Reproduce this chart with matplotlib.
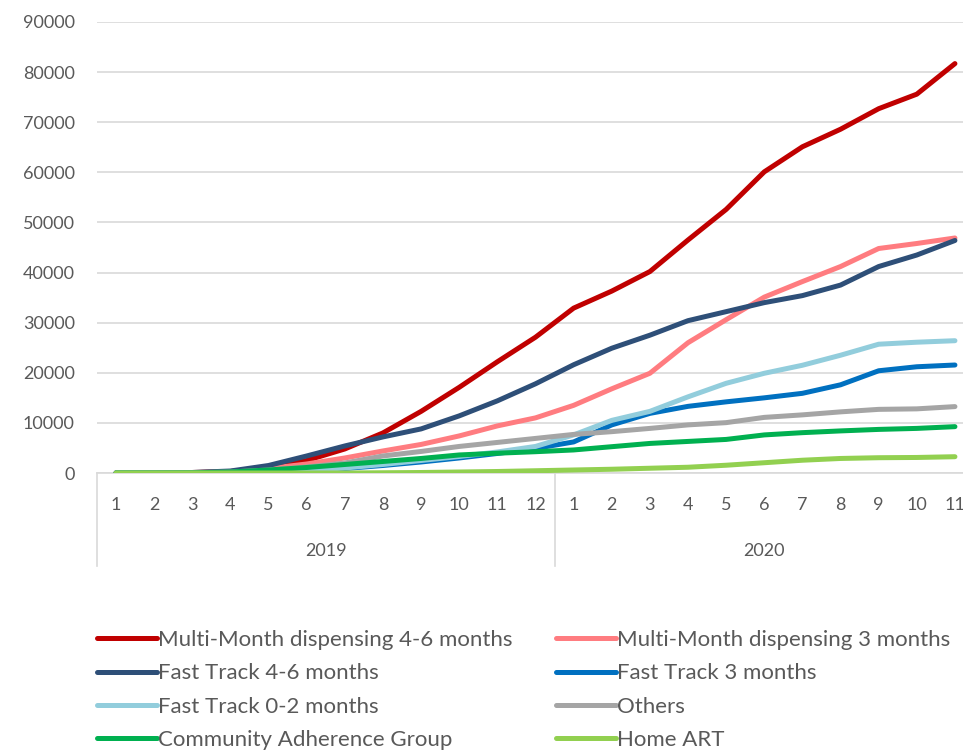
import matplotlib
matplotlib.use("Agg")
import matplotlib.pyplot as plt
import matplotlib.transforms as mtransforms

# -------- Data --------
months = [str(m) for m in range(1, 13)] + [str(m) for m in range(1, 12)]
years = ["2019", "2020"]
year_sizes = [12, 11]

mmd_4_6 = [0, 0, 100, 300, 1000, 2500, 4800, 8000, 12300, 17100, 22200, 27100,
           32900, 36300, 40200, 46500, 52600, 60100, 65100, 68600, 72700, 75600, 81700]
mmd_3 = [0, 0, 50, 300, 900, 1800, 3000, 4400, 5700, 7400, 9400, 11000,
         13500, 16800, 19900, 26000, 30600, 35100, 38200, 41200, 44800, 45800, 46900]
ft_4_6 = [0, 0, 100, 400, 1500, 3400, 5400, 7200, 8800, 11400, 14400, 17800,
          21600, 24900, 27500, 30400, 32200, 34000, 35400, 37500, 41200, 43500, 46400]
ft_3 = [0, 0, 0, 50, 200, 500, 900, 1500, 2200, 3000, 3900, 4900,
        6200, 9600, 11900, 13300, 14200, 15000, 15900, 17600, 20400, 21200, 21550]
ft_0_2 = [0, 0, 0, 50, 200, 500, 1000, 1700, 2500, 3300, 4200, 5300,
          7600, 10500, 12300, 15200, 17900, 19900, 21500, 23500, 25700, 26100, 26400]
others = [0, 0, 50, 200, 600, 1200, 2000, 3400, 4300, 5300, 6100, 6900,
          7700, 8250, 8900, 9600, 10050, 11100, 11600, 12200, 12700, 12800, 13250]
cag = [0, 0, 30, 200, 600, 1100, 1700, 2300, 2900, 3600, 3950, 4250,
       4600, 5250, 5900, 6300, 6700, 7600, 8050, 8400, 8700, 8900, 9250]
home_art = [0, 0, 0, 0, 0, 0, 0, 50, 100, 200, 300, 450,
            600, 750, 950, 1150, 1550, 2050, 2550, 2900, 3050, 3100, 3250]

series = [
    ("Multi-Month dispensing 4-6 months", mmd_4_6, "#C00000"),
    ("Multi-Month dispensing 3 months", mmd_3, "#FF7C80"),
    ("Fast Track 4-6 months", ft_4_6, "#2E4F78"),
    ("Fast Track 3 months", ft_3, "#0070C0"),
    ("Fast Track 0-2 months", ft_0_2, "#92CDDC"),
    ("Others", others, "#A5A5A5"),
    ("Community Adherence Group", cag, "#00B050"),
    ("Home ART", home_art, "#92D050"),
]

plt.rcParams['font.family'] = ['Lato', 'DejaVu Sans']
text_col = "#595959"
grid_col = "#D9D9D9"

W, H = 963, 750
fig = plt.figure(figsize=(W / 100, H / 100), dpi=100)
ax = fig.add_axes([97 / W, 1 - 473 / H, 877 / W, 451 / H])

x = list(range(len(months)))
handles = []
for label, vals, col in series:
    h, = ax.plot(x, vals, color=col, lw=3.6, label=label, solid_capstyle="round",
                 solid_joinstyle="round", zorder=3)
    handles.append(h)

ax.set_xlim(-0.5, len(months) - 0.5)
ax.set_ylim(0, 90000)
ax.set_yticks(range(0, 90001, 10000))
ax.yaxis.grid(True, color=grid_col, lw=1.2)
ax.set_axisbelow(True)
for s in ["top", "right", "left"]:
    ax.spines[s].set_visible(False)
ax.spines["bottom"].set_color(grid_col)
ax.spines["bottom"].set_linewidth(1.2)
ax.tick_params(axis="y", length=0, pad=16, labelsize=13, labelcolor=text_col)
ax.set_xticks(x)
ax.set_xticklabels(months)
ax.tick_params(axis="x", length=0, pad=17, labelsize=13, labelcolor=text_col)

# two-level category axis: year labels and separators
trans = mtransforms.blended_transform_factory(ax.transData, fig.transFigure)
y_top = 1 - 473 / H
y_bot = 1 - 566 / H
start = -0.5
for yr, n in zip(years, year_sizes):
    ax.text(start + n / 2, 1 - 551 / H, yr, transform=trans, ha="center",
            va="center", fontsize=13, color=text_col)
    ax.plot([start, start], [y_top, y_bot], transform=trans, color=grid_col,
            lw=1.2, clip_on=False)
    start += n

# legend is filled row by row in the reference
order = [0, 2, 4, 6, 1, 3, 5, 7]
fig.legend([handles[i] for i in order], [series[i][0] for i in order],
           loc="upper left", bbox_to_anchor=(97 / W, 1 - 630 / H), ncol=2,
           frameon=False, fontsize=16, handlelength=2.7, handletextpad=0.05,
           columnspacing=1.94, labelspacing=0.6, borderpad=0, borderaxespad=0,
           labelcolor=text_col)

fig.savefig("out.png", dpi=100)
